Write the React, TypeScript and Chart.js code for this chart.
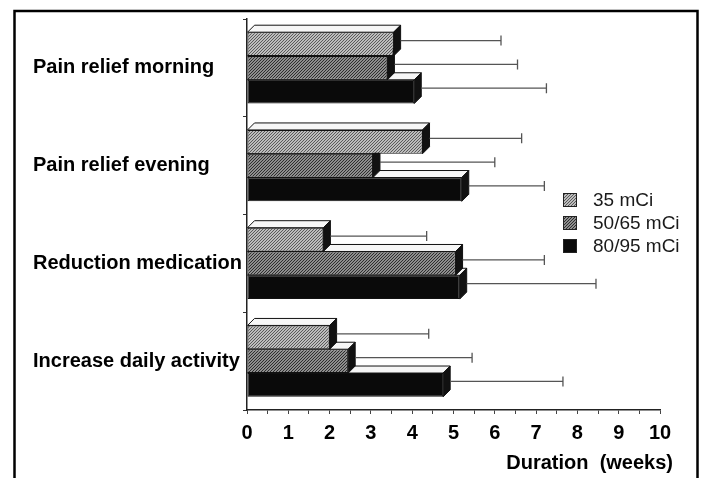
import React, { useEffect, useRef } from 'react';
import { Chart, registerables } from 'chart.js';

Chart.register(...registerables);

const categories = ['Pain relief morning', 'Pain relief evening', 'Reduction medication', 'Increase daily activity'];
const seriesNames = ['35 mCi', '50/65 mCi', '80/95 mCi'];
const dose35 = [3.55, 4.25, 1.85, 2.0];
const dose35Err = [2.6, 2.4, 2.5, 2.4];
const dose5065 = [3.4, 3.05, 5.05, 2.45];
const dose5065Err = [3.15, 2.95, 2.15, 3.0];
const dose8095 = [4.05, 5.2, 5.15, 4.75];
const dose8095Err = [3.2, 2.0, 3.3, 2.9];
const xMin = 0;
const xMax = 10;
const axisTitle = 'Duration  (weeks)';

const FONT = '"Liberation Sans", Arial, Helvetica, sans-serif';
const DEPTH = 7;

function hatch(bg: string, line: string): any {
  const c = document.createElement('canvas');
  c.width = 3;
  c.height = 3;
  const g = c.getContext('2d')!;
  g.fillStyle = bg;
  g.fillRect(0, 0, 3, 3);
  g.fillStyle = line;
  for (let i = 0; i < 3; i++) g.fillRect(i, 2 - i, 1, 1);
  return g.createPattern(c, 'repeat');
}

export default function App() {
  const ref = useRef<HTMLCanvasElement | null>(null);

  useEffect(() => {
    const canvas = ref.current!;
    const errs = [dose35Err, dose5065Err, dose8095Err];
    const fills = [hatch('#bdbdbd', '#5a5a5a'), hatch('#8e8e8e', '#2e2e2e'), '#0a0a0a'];

    const faces = {
      id: 'faces3d',
      afterDatasetDraw(chart: any, args: any) {
        const ctx = chart.ctx;
        ctx.save();
        args.meta.data.forEach((el: any) => {
          const p = el.getProps(['x', 'y', 'base', 'height'], true);
          const left = Math.min(p.x, p.base);
          const right = Math.max(p.x, p.base);
          const top = p.y - p.height / 2;
          const bottom = p.y + p.height / 2;
          ctx.lineWidth = 1;
          ctx.strokeStyle = '#111';
          ctx.beginPath();
          ctx.moveTo(left, top);
          ctx.lineTo(left + DEPTH, top - DEPTH);
          ctx.lineTo(right + DEPTH, top - DEPTH);
          ctx.lineTo(right, top);
          ctx.closePath();
          ctx.fillStyle = '#f6f6f6';
          ctx.fill();
          ctx.stroke();
          ctx.beginPath();
          ctx.moveTo(right, top);
          ctx.lineTo(right + DEPTH, top - DEPTH);
          ctx.lineTo(right + DEPTH, bottom - DEPTH);
          ctx.lineTo(right, bottom);
          ctx.closePath();
          ctx.fillStyle = '#111';
          ctx.fill();
          ctx.stroke();
        });
        ctx.restore();
      },
      afterDatasetsDraw(chart: any) {
        const ctx = chart.ctx;
        const xs = chart.scales.x;
        ctx.save();
        ctx.strokeStyle = '#555';
        ctx.lineWidth = 1.3;
        chart.data.datasets.forEach((ds: any, di: number) => {
          const meta = chart.getDatasetMeta(di);
          meta.data.forEach((el: any, i: number) => {
            const p = el.getProps(['x', 'y'], true);
            const end = xs.getPixelForValue(ds.data[i] + errs[di][i]);
            const yy = p.y - DEPTH / 2;
            ctx.beginPath();
            ctx.moveTo(p.x + DEPTH, yy);
            ctx.lineTo(end, yy);
            ctx.moveTo(end, yy - 5);
            ctx.lineTo(end, yy + 5);
            ctx.stroke();
          });
        });
        ctx.restore();
      },
      afterDraw(chart: any) {
        const ctx = chart.ctx;
        ctx.save();
        // legend
        const lx = 563;
        const rows = [200, 223, 246];
        ctx.font = `19px ${FONT}`;
        ctx.textBaseline = 'middle';
        ctx.textAlign = 'left';
        seriesNames.forEach((name, i) => {
          ctx.fillStyle = fills[i];
          ctx.fillRect(lx, rows[i] - 7, 14, 14);
          ctx.strokeStyle = '#222';
          ctx.lineWidth = 1;
          ctx.strokeRect(lx + 0.5, rows[i] - 6.5, 13, 13);
          ctx.fillStyle = '#1a1a1a';
          ctx.fillText(name, 593, rows[i] + 1);
        });
        // axis title
        ctx.font = `bold 20px ${FONT}`;
        ctx.fillStyle = '#000';
        ctx.textAlign = 'right';
        ctx.fillText(axisTitle, 673, 463);
        // frame
        ctx.strokeStyle = '#000';
        ctx.lineWidth = 2.5;
        ctx.beginPath();
        ctx.moveTo(14.5, 478);
        ctx.lineTo(14.5, 11);
        ctx.lineTo(697.5, 11);
        ctx.lineTo(697.5, 478);
        ctx.stroke();
        ctx.restore();
      },
    };

    const chart = new Chart(canvas, {
      type: 'bar',
      data: {
        labels: categories,
        datasets: [
          { label: seriesNames[0], data: dose35, backgroundColor: fills[0], borderColor: '#111', borderWidth: 1, borderSkipped: false },
          { label: seriesNames[1], data: dose5065, backgroundColor: fills[1], borderColor: '#111', borderWidth: 1, borderSkipped: false },
          { label: seriesNames[2], data: dose8095, backgroundColor: fills[2], borderColor: '#111', borderWidth: 1, borderSkipped: false },
        ] as any,
      },
      options: {
        indexAxis: 'y',
        responsive: false,
        animation: false,
        devicePixelRatio: 1,
        layout: { padding: { left: 33, right: 43, top: 19, bottom: 0 } },
        datasets: { bar: { categoryPercentage: 0.73, barPercentage: 1 } },
        plugins: { legend: { display: false }, tooltip: { enabled: false }, title: { display: false } },
        scales: {
          x: {
            type: 'linear',
            min: xMin,
            max: xMax,
            grid: { drawOnChartArea: false, drawTicks: true, tickLength: 4, color: '#444' },
            border: { display: true, color: '#222', width: 1.5 },
            ticks: {
              stepSize: 0.5,
              autoSkip: false,
              maxRotation: 0,
              padding: 7,
              color: '#000',
              font: { family: FONT, size: 20, weight: 'bold' },
              callback: (v: any) => (Number.isInteger(v) ? String(v) : ''),
            },
            afterFit: (s: any) => {
              s.height = 68;
            },
          },
          y: {
            type: 'category',
            offset: true,
            grid: { drawOnChartArea: false, drawTicks: true, tickLength: 4, color: '#333', offset: true },
            border: { display: true, color: '#222', width: 1.5 },
            ticks: {
              crossAlign: 'far',
              padding: 0,
              color: '#000',
              font: { family: FONT, size: 20, weight: 'bold' },
            },
            afterFit: (s: any) => {
              s.width = 214;
            },
          },
        },
      } as any,
      plugins: [faces],
    });
    return () => chart.destroy();
  }, []);

  return (
    <div style={{ position: 'fixed', left: 0, top: 0, width: 703, height: 478, background: '#fff' }}>
      <canvas ref={ref} width={703} height={478} style={{ display: 'block', width: 703, height: 478 }} />
    </div>
  );
}
